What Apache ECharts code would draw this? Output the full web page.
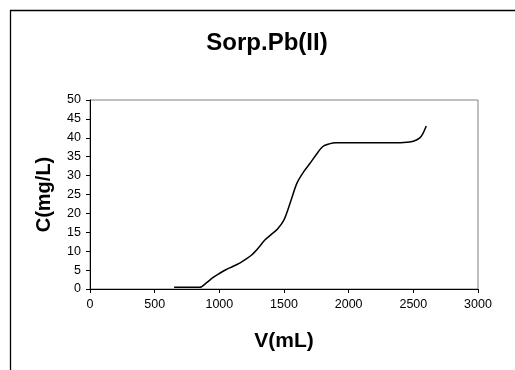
<!DOCTYPE html>
<html>
<head>
<meta charset="utf-8">
<script src="https://cdn.jsdelivr.net/npm/echarts@6/dist/echarts.min.js"></script>
<style>html,body{margin:0;padding:0;background:#fff}#c{width:515px;height:370px}</style>
</head>
<body>
<div id="c"></div>
<script>
const volumes = [650, 700, 750, 800, 850, 900, 950, 1000, 1050, 1100, 1150, 1200, 1250, 1300, 1350, 1400, 1450, 1500, 1550, 1600, 1650, 1700, 1750, 1800, 1850, 1900, 2000, 2100, 2200, 2300, 2400, 2450, 2500, 2550, 2575, 2600];
const concentrations = [0.45, 0.45, 0.45, 0.45, 0.45, 1.6, 3.0, 4.1, 5.1, 5.9, 6.7, 7.8, 9.0, 10.8, 12.9, 14.4, 15.9, 18.3, 23.0, 28.0, 30.9, 33.2, 35.6, 37.7, 38.4, 38.7, 38.7, 38.7, 38.7, 38.7, 38.7, 38.8, 39.1, 40.0, 41.2, 43.1];
const titleText = 'Sorp.Pb(II)';
const xName = 'V(mL)';
const yName = 'C(mg/L)';

const chart = echarts.init(document.getElementById('c'), null, {renderer: 'canvas'});
const font = 'Arial, "Liberation Sans", sans-serif';
chart.setOption({
  backgroundColor: '#fff',
  animation: false,
  title: {
    text: titleText,
    left: 262, top: 26, textAlign: 'center',
    textStyle: {fontFamily: font, fontWeight: 'bold', fontSize: 24, color: '#000'}
  },
  graphic: [{
    type: 'rect', shape: {x: 10.5, y: 10.5, width: 700, height: 500},
    style: {fill: 'none', stroke: '#000', lineWidth: 1.3}, silent: true
  }],
  grid: {left: 90, right: 37, top: 100, bottom: 81, show: true, borderColor: '#808080', borderWidth: 1, backgroundColor: 'transparent'},
  xAxis: {
    type: 'value', min: 0, max: 3000, interval: 500,
    name: xName, nameLocation: 'middle', nameGap: 42,
    nameTextStyle: {fontFamily: font, fontWeight: 'bold', fontSize: 21, color: '#000'},
    axisLine: {show: true, lineStyle: {color: '#000', width: 1}},
    axisTick: {show: true, inside: false, length: 4, lineStyle: {color: '#000'}},
    axisLabel: {fontFamily: font, fontSize: 12.5, color: '#000', margin: 9, formatter: v => String(v)},
    splitLine: {show: false}
  },
  yAxis: {
    type: 'value', min: 0, max: 50, interval: 5,
    name: yName, nameLocation: 'middle', nameGap: 36,
    nameTextStyle: {fontFamily: font, fontWeight: 'bold', fontSize: 20, color: '#000'},
    axisLine: {show: true, lineStyle: {color: '#000', width: 1}},
    axisTick: {show: true, inside: false, length: 4, lineStyle: {color: '#000'}},
    axisLabel: {fontFamily: font, fontSize: 12.5, color: '#000', margin: 9, formatter: v => String(v)},
    splitLine: {show: false}
  },
  series: [{
    type: 'line',
    data: volumes.map((v, i) => [v, concentrations[i]]),
    smooth: 0.3,
    showSymbol: false,
    lineStyle: {color: '#000', width: 1.5}
  }]
});
</script>
</body>
</html>
